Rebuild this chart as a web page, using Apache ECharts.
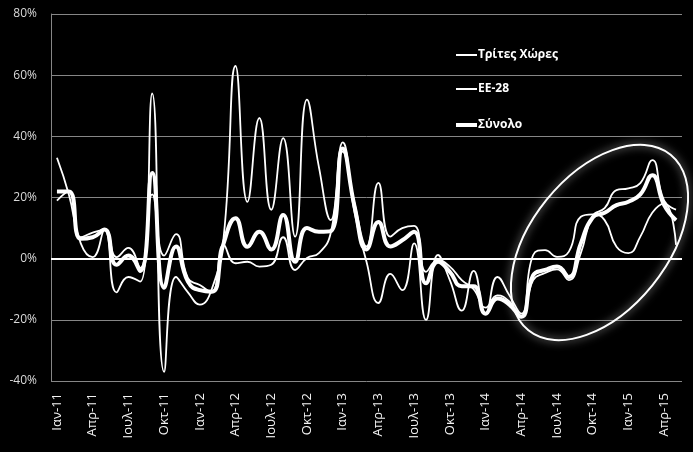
<!DOCTYPE html>
<html>
<head>
<meta charset="utf-8">
<script src="https://cdn.jsdelivr.net/npm/echarts@6/dist/echarts.min.js"></script>
<style>
html,body{margin:0;padding:0;background:#000;}
#c{width:693px;height:452px;}
</style>
</head>
<body>
<div id="c"></div>
<script>
var categories = [
 'Ιαν-11','Φεβ-11','Μαρ-11','Απρ-11','Μαϊ-11','Ιουν-11','Ιουλ-11','Αυγ-11','Σεπ-11','Οκτ-11','Νοε-11','Δεκ-11',
 'Ιαν-12','Φεβ-12','Μαρ-12','Απρ-12','Μαϊ-12','Ιουν-12','Ιουλ-12','Αυγ-12','Σεπ-12','Οκτ-12','Νοε-12','Δεκ-12',
 'Ιαν-13','Φεβ-13','Μαρ-13','Απρ-13','Μαϊ-13','Ιουν-13','Ιουλ-13','Αυγ-13','Σεπ-13','Οκτ-13','Νοε-13','Δεκ-13',
 'Ιαν-14','Φεβ-14','Μαρ-14','Απρ-14','Μαϊ-14','Ιουν-14','Ιουλ-14','Αυγ-14','Σεπ-14','Οκτ-14','Νοε-14','Δεκ-14',
 'Ιαν-15','Φεβ-15','Μαρ-15','Απρ-15','Μαϊ-15'
];
var tritesXores = [33,21,5,0.5,9.5,-11,-6,-7.5,54,-37,-6,-11,-15,-10,7,63,18.6,46,16,39.4,7.2,52,30,12.6,38,15,-1,-14.5,-5,-10.3,5,-20,1.2,-7,-17,-4,-18,-6,-12,-18,1.2,2.8,0.6,2.3,13.7,14.5,12.6,3.9,1.8,7.2,15,18,4.5];
var ee28 = [19,22,7,8.5,9.5,0.5,3.5,-3,21,1,8,-6.4,-8.6,-11,4.5,-1.5,-1,-2.6,-2,7,-3.7,0.2,1.8,8.5,35,18,4,24.8,7.2,10,10.7,-4.3,-0.5,-2.6,-7,-10,-16,-12,-14,-19,-7,-4.7,-3.5,-7,1.8,14,16.5,22.4,23,24.7,32.2,19,16];
var synolo = [22,22,6.5,7,9.5,-2,1,-4,28,-9.5,4,-7.5,-10.3,-10.8,5,13.2,3.9,8.8,3,14.3,-1,10,8.8,9,36,17,3,12,4,6,8.8,-8,-1,-4.3,-9,-9,-18,-13,-15,-19,-5.4,-3.7,-2.6,-6,5,13.5,15,17.5,18.6,21,27.3,17.5,12.6];
var seriesNames = ['Τρίτες Χώρες','ΕΕ-28','Σύνολο'];
var yTicks = {min:-40, max:80, interval:20};

var chart = echarts.init(document.getElementById('c'), null, {renderer:'canvas'});
var font = "'Open Sans', 'Noto Sans', sans-serif";
function legendFor(name, top, h){
  return {
    data:[{name:name, icon:'rect'}],
    orient:'vertical', left:451, top:top,
    itemWidth:21, itemHeight:h,
    textStyle:{color:'#fff',fontFamily:font,fontSize:12,fontWeight:'bold',padding:[0,0,0,-4]}
  };
}
chart.setOption({
  backgroundColor:'#000',
  animation:false,
  grid:{left:51,right:11,top:14,bottom:71,containLabel:false},
  legend:[legendFor(seriesNames[0],44,2),legendFor(seriesNames[1],78,2),legendFor(seriesNames[2],114,4)],
  xAxis:{
    type:'category', data:categories, boundaryGap:true,
    axisLine:{show:false}, axisTick:{show:false},
    axisLabel:{interval:2,rotate:90,color:'#f2f2f2',fontFamily:font,fontSize:13,margin:12}
  },
  yAxis:{
    type:'value', min:yTicks.min, max:yTicks.max, interval:yTicks.interval,
    axisLine:{show:true,lineStyle:{color:'#868686',width:1}},
    axisTick:{show:false},
    axisLabel:{formatter:'{value}%',color:'#d9d9d9',fontFamily:font,fontSize:12,margin:14},
    splitLine:{lineStyle:{color:'#868686',width:1}}
  },
  series:[
    {name:seriesNames[0],type:'line',data:tritesXores,smooth:true,symbol:'none',
     lineStyle:{color:'#fff',width:1.8},itemStyle:{color:'#fff'},
     markLine:{silent:true,symbol:'none',label:{show:false},lineStyle:{color:'#fff',width:2,type:'solid'},data:[{yAxis:0}]}},
    {name:seriesNames[1],type:'line',data:ee28,smooth:true,symbol:'none',
     lineStyle:{color:'#fff',width:1.8},itemStyle:{color:'#fff'}},
    {name:seriesNames[2],type:'line',data:synolo,smooth:true,symbol:'none',
     lineStyle:{color:'#fff',width:4},itemStyle:{color:'#fff'}}
  ],
  graphic:[{
    type:'ellipse', x:599.5, y:242.5, rotation:51*Math.PI/180, silent:true, z:100,
    shape:{cx:0,cy:0,rx:113,ry:68},
    style:{fill:null,stroke:'#fff',lineWidth:2,shadowBlur:8,shadowColor:'rgba(255,255,255,0.8)'}
  }]
});
</script>
</body>
</html>
